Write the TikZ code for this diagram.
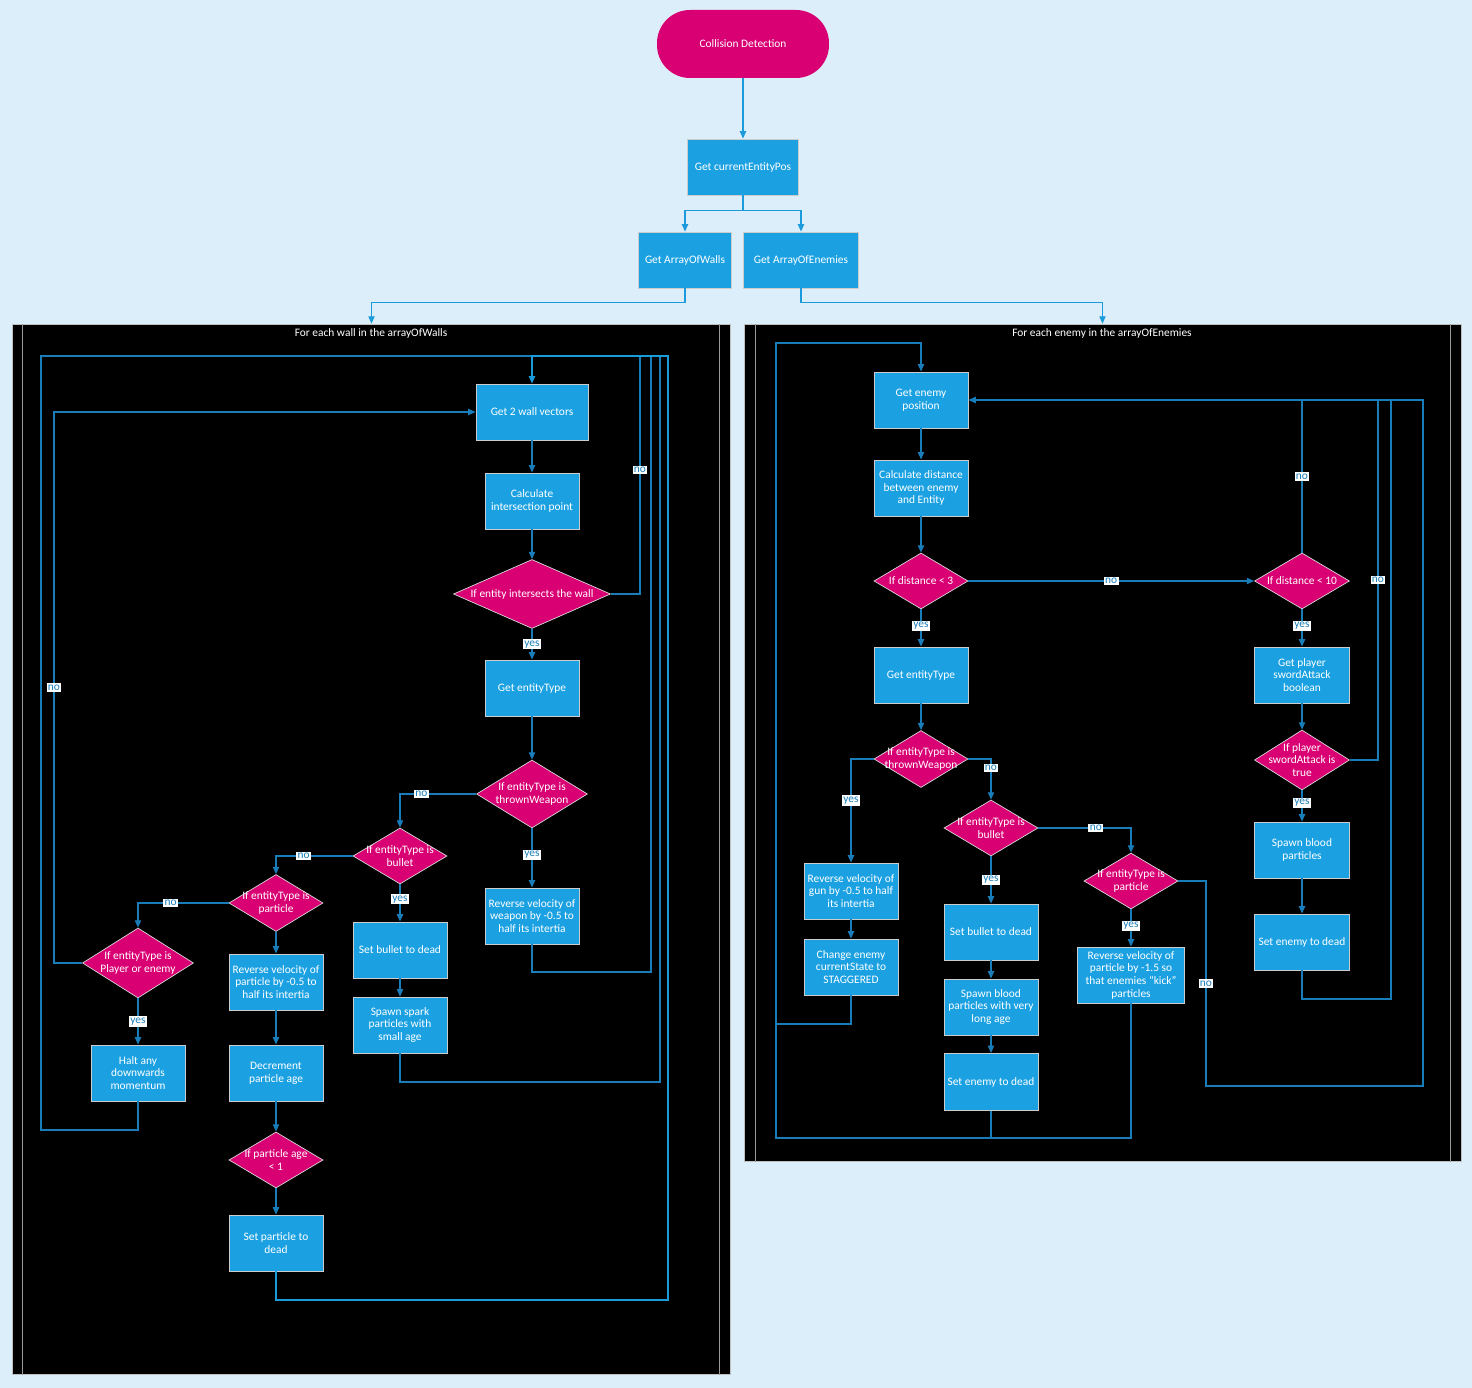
\documentclass[tikz,border=0pt]{standalone}
\usepackage{fontspec}
\setmainfont{Carlito}
\usetikzlibrary{shapes.geometric,arrows.meta}
\definecolor{bgblue}{RGB}{219,238,249}
\definecolor{boxblue}{RGB}{27,161,226}
\definecolor{decmag}{RGB}{216,0,115}
\definecolor{wire}{RGB}{27,155,220}
\definecolor{pwire}{RGB}{24,125,185}
\tikzset{
  proc/.style={rectangle,fill=boxblue,draw=white!80!black,line width=0.5pt,text=white,
    align=center,minimum width=1.88cm,minimum height=1.12cm,inner sep=1pt},
  dec/.style={diamond,fill=decmag,draw=white!85!black,line width=0.4pt,text=white,
    align=center,aspect=1.68,minimum width=1.88cm,minimum height=1.12cm,inner sep=-8pt},
  term/.style={rectangle,rounded corners=0.66cm,fill=decmag,text=white,
    minimum width=3.44cm,minimum height=1.36cm},
  panel/.style={rectangle,fill=black,draw=white!75!black,line width=0.5pt,inner sep=0pt},
  lane/.style={draw=white!60!black,line width=0.5pt},
  ptitle/.style={text=white},
  line/.style={draw=pwire,line width=0.6pt},
  arr/.style={line,-{Triangle[length=4.2pt,width=3.6pt]}},
  toparr/.style={arr,draw=wire},
  lab/.style={fill=white,text=pwire,inner sep=0.8pt}
}
\begin{document}
\begin{tikzpicture}[x=0.02cm,y=-0.02cm,font=\fontsize{6.5}{7.2}\selectfont]
  \useasboundingbox (0,0) rectangle (1472,1388);
  \fill[bgblue] (0,0) rectangle (1472,1388);

  % panels
  \node[panel,minimum width=14.38cm,minimum height=21.02cm] (lpanel) at (371.5,849.5) {};
  \node[panel,minimum width=14.34cm,minimum height=16.76cm] (rpanel) at (1102.5,743) {};
  \draw[lane] (22,324) -- (22,1375) (719,324) -- (719,1375);
  \draw[lane] (755,324) -- (755,1162) (1450,324) -- (1450,1162);
  \node[ptitle] (ltitle) at (371,333) {For each wall in the arrayOfWalls};
  \node[ptitle] (rtitle) at (1102,333) {For each enemy in the arrayOfEnemies};

  % top
  \node[term] (start) at (743,44) {Collision Detection};
  \node[proc,minimum width=2.22cm] (cur) at (743,167) {Get currentEntityPos};
  \node[proc,minimum width=1.86cm] (walls) at (685,260) {Get ArrayOfWalls};
  \node[proc,minimum width=2.3cm] (enem) at (801,260) {Get ArrayOfEnemies};
  \draw[toparr] (start) -- (cur);
  \draw[toparr] (cur.south) -- ++(0,15) -| (walls.north);
  \draw[toparr] (cur.south) -- ++(0,15) -| (enem.north);
  \draw[toparr] (walls.south) -- ++(0,14) -| (lpanel.north);
  \draw[toparr] (enem.south) -- ++(0,14) -| (rpanel.north);

  % walls loop
  \coordinate (wtop) at (532,356);
  \node[proc,minimum width=2.24cm] (g2) at (532,412) {Get 2 wall vectors};
  \node[proc] (calcint) at (532,501) {Calculate\\intersection point};
  \node[dec,minimum width=3.14cm,minimum height=1.38cm,aspect=2.28] (dint) at (532,594) {If entity intersects the wall};
  \node[proc] (gtype) at (532,688) {Get entityType};
  \node[dec,minimum width=2.22cm,minimum height=1.36cm] (dtwl) at (532,794) {If entityType is\\thrownWeapon};
  \node[proc] (revw) at (532,916) {Reverse velocity of\\weapon by -0.5 to\\half its intertia};
  \node[dec] (dbull) at (400,856) {If entityType is\\bullet};
  \node[proc] (sbull) at (400,950) {Set bullet to dead};
  \node[proc] (spark) at (400,1025) {Spawn spark\\particles with\\small age};
  \node[dec,minimum height=1.14cm] (dparl) at (276,903) {If entityType is\\particle};
  \node[proc] (revpl) at (276,982) {Reverse velocity of\\particle by -0.5 to\\half its intertia};
  \node[proc] (decr) at (276,1073) {Decrement\\particle age};
  \node[dec] (dage) at (276,1160) {If particle age\\< 1};
  \node[proc] (pdead) at (276,1243) {Set particle to\\dead};
  \node[dec,minimum width=2.22cm,minimum height=1.4cm] (dpe) at (138,963) {If entityType is\\Player or enemy};
  \node[proc] (halt) at (138,1073) {Halt any\\downwards\\momentum};

  \draw[arr] (g2) -- (calcint);
  \draw[arr] (calcint) -- (dint);
  \draw[arr] (dint) -- node[lab]{yes} (gtype);
  \draw[arr] (gtype) -- (dtwl);
  \draw[arr] (dtwl) -- node[lab,pos=0.45]{yes} (revw);
  \draw[arr] (dtwl.west) -| node[lab,pos=0.36]{no} (dbull.north);
  \draw[arr] (dbull) -- node[lab,pos=0.4]{yes} (sbull);
  \draw[arr] (sbull) -- (spark);
  \draw[arr] (dbull.west) -| node[lab,pos=0.32]{no} (dparl.north);
  \draw[arr] (dparl) -- (revpl);
  \draw[arr] (revpl) -- (decr);
  \draw[arr] (decr) -- (dage);
  \draw[arr] (dage) -- (pdead);
  \draw[arr] (dparl.west) -| node[lab,pos=0.32]{no} (dpe.north);
  \draw[arr] (dpe) -- node[lab,pos=0.5]{yes} (halt);
  \draw[arr] (dpe.west) -| node[lab,pos=0.75]{no} (54,412) -- (g2.west);
  \draw[line] (dint.east) -| node[lab,pos=0.76]{no} (640,356) -- (wtop);
  \draw[line] (revw.south) |- (651,972) |- (wtop);
  \draw[line] (spark.south) |- (660,1082) |- (wtop);
  \draw[line] (halt.south) |- (41,1130) |- (wtop);
  \draw[arr,draw=wire] (pdead.south) |- (668,1300) |- (wtop) -- (g2.north);

  % enemies loop
  \coordinate (etop) at (921,343);
  \node[proc] (epos) at (921,400) {Get enemy\\position};
  \node[proc] (calc) at (921,488) {Calculate distance\\between enemy\\and Entity};
  \node[dec] (dist3) at (921,581) {If distance < 3};
  \node[dec,minimum width=1.9cm] (dist10) at (1302,581) {If distance < 10};
  \node[proc] (etype) at (921,675) {Get entityType};
  \node[dec,minimum height=1.14cm] (dtw) at (921,759) {If entityType is\\thrownWeapon};
  \node[proc] (revg) at (851,891) {Reverse velocity of\\gun by -0.5 to half\\its intertia};
  \node[proc] (stag) at (851,967) {Change enemy\\currentState to\\STAGGERED};
  \node[dec] (dbul) at (991,828) {If entityType is\\bullet};
  \node[proc] (sbul) at (991,932) {Set bullet to dead};
  \node[proc] (blood1) at (991,1007) {Spawn blood\\particles with very\\long age};
  \node[proc,minimum height=1.14cm] (edead1) at (991,1082) {Set enemy to dead};
  \node[dec] (dpar) at (1131,881) {If entityType is\\particle};
  \node[proc,minimum width=2.14cm] (revp) at (1131,975) {Reverse velocity of\\particle by -1.5 so\\that enemies “kick”\\particles};
  \node[proc,minimum width=1.9cm] (sword) at (1302,675) {Get player\\swordAttack\\boolean};
  \node[dec,minimum width=1.9cm,minimum height=1.2cm] (dsw) at (1302,760) {If player\\swordAttack is\\true};
  \node[proc,minimum width=1.9cm] (blood2) at (1302,850) {Spawn blood\\particles};
  \node[proc,minimum width=1.9cm] (edead2) at (1302,942) {Set enemy to dead};

  \draw[arr] (epos) -- (calc);
  \draw[arr] (calc) -- (dist3);
  \draw[arr] (dist3) -- node[lab]{no} (dist10);
  \draw[arr] (dist3) -- node[lab,pos=0.45]{yes} (etype);
  \draw[arr] (etype) -- (dtw);
  \draw[arr] (dtw.west) -| node[lab,pos=0.7]{yes} (revg.north);
  \draw[arr] (revg) -- (stag);
  \draw[arr] (dtw.east) -| node[lab,pos=0.61]{no} (dbul.north);
  \draw[arr] (dbul) -- node[lab,pos=0.5]{yes} (sbul);
  \draw[arr] (sbul) -- (blood1);
  \draw[arr] (blood1) -- (edead1);
  \draw[arr] (dbul.east) -| node[lab,pos=0.31]{no} (dpar.north);
  \draw[arr] (dpar) -- node[lab,pos=0.45]{yes} (revp);
  \draw[arr] (dist10) -- node[lab,pos=0.45]{yes} (sword);
  \draw[arr] (sword) -- (dsw);
  \draw[arr] (dsw) -- node[lab,pos=0.4]{yes} (blood2);
  \draw[arr] (blood2) -- (edead2);
  \draw[line] (dist10.north) -- node[lab]{no} (1302,400);
  \draw[line] (dsw.east) -| node[lab,pos=0.75]{no} (1378,400);
  \draw[line] (edead2.south) |- (1391,999) -- (1391,400);
  \draw[arr] (dpar.east) -| node[lab,pos=0.75]{no} (1206,1086) -| (1423,400) -- (epos.east);
  \draw[line] (stag.south) |- (776,1024);
  \draw[line] (edead1.south) -- (991,1138);
  \draw[arr] (revp.south) |- (776,1138) |- (etop) -- (epos.north);
\end{tikzpicture}
\end{document}
